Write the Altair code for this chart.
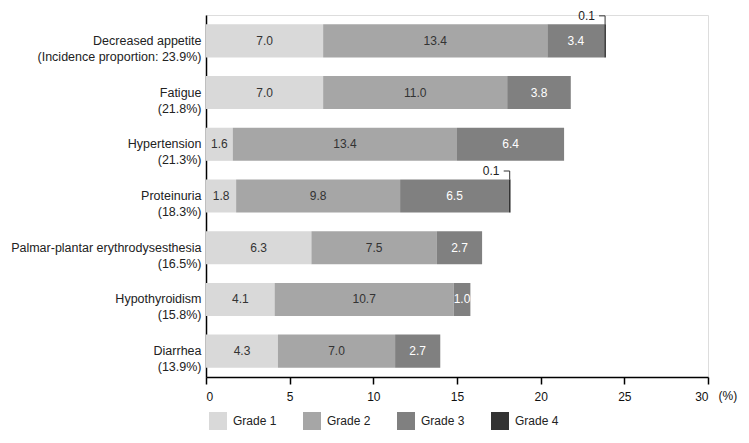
import altair as alt
import pandas as pd

categories = [
    "Decreased appetite\n(Incidence proportion: 23.9%)",
    "Fatigue\n(21.8%)",
    "Hypertension\n(21.3%)",
    "Proteinuria\n(18.3%)",
    "Palmar-plantar erythrodysesthesia\n(16.5%)",
    "Hypothyroidism\n(15.8%)",
    "Diarrhea\n(13.9%)",
]
grades = ["Grade 1", "Grade 2", "Grade 3", "Grade 4"]
grade1 = [7.0, 7.0, 1.6, 1.8, 6.3, 4.1, 4.3]
grade2 = [13.4, 11.0, 13.4, 9.8, 7.5, 10.7, 7.0]
grade3 = [3.4, 3.8, 6.4, 6.5, 2.7, 1.0, 2.7]
grade4 = [0.1, 0.0, 0.0, 0.1, 0.0, 0.0, 0.0]
colors = ["#d9d9d9", "#a6a6a6", "#808080", "#333333"]
x_ticks = [0, 5, 10, 15, 20, 25, 30]

rows = []
for i, c in enumerate(categories):
    start = 0.0
    for g, vals in zip(grades, [grade1, grade2, grade3, grade4]):
        v = vals[i]
        if v > 0:
            rows.append(dict(cat=c, grade=g, value=v, start=round(start, 2),
                             end=round(start + v, 2), mid=round(start + v / 2, 3),
                             label=f"{v:.1f}"))
        start += v
df = pd.DataFrame(rows)

FONT = "Liberation Sans"
W, H = 502, 362

y_enc = alt.Y(
    "cat:N", sort=categories,
    scale=alt.Scale(paddingInner=0.36, paddingOuter=0.18),
    axis=alt.Axis(title=None, labelExpr="split(datum.label, '\\n')", ticks=False,
                  domainColor="#000000", domainWidth=1.5, labelFontSize=12.5,
                  labelLineHeight=16, labelPadding=5, labelColor="#222222",
                  labelLimit=400, labelFont=FONT),
)
x_scale = alt.Scale(domain=[0, 30], nice=False)
x_axis = alt.Axis(values=x_ticks, title="(%)", grid=False, domainColor="#000000",
                  domainWidth=1.5, tickColor="#000000", tickWidth=1.5, tickSize=7,
                  labelFontSize=12, labelPadding=7, labelColor="#111111", labelFont=FONT,
                  titleFontSize=12, titleFontWeight="normal", titleColor="#111111",
                  titleFont=FONT, titleX=W + 10, titleY=22, titleAlign="left",
                  titleBaseline="alphabetic", titleAngle=0)

base = alt.Chart(df).encode(y=y_enc)

bars = base.mark_bar().encode(
    x=alt.X("start:Q", scale=x_scale, axis=x_axis),
    x2="end:Q",
    color=alt.Color("grade:N", scale=alt.Scale(domain=grades, range=colors),
                    legend=alt.Legend(title=None, orient="none", legendX=3, legendY=397,
                                      direction="horizontal", columns=4,
                                      symbolType="square", symbolSize=324,
                                      symbolStrokeWidth=0, symbolOpacity=1,
                                      labelFontSize=12, labelOffset=6,
                                      labelColor="#222222", labelFont=FONT,
                                      columnPadding=26, padding=0)),
)

txt_dark = base.mark_text(fontSize=12, color="#333333", font=FONT, baseline="middle").encode(
    x=alt.X("mid:Q", scale=x_scale, axis=x_axis), text="label:N"
).transform_filter("datum.grade == 'Grade 1' || datum.grade == 'Grade 2'")

txt_light = base.mark_text(fontSize=12, color="#ffffff", font=FONT, baseline="middle").encode(
    x=alt.X("mid:Q", scale=x_scale, axis=x_axis), text="label:N"
).transform_filter("datum.grade == 'Grade 3'")

g4 = base.transform_filter("datum.grade == 'Grade 4'")

txt_g4 = g4.mark_text(fontSize=12, color="#222222", font=FONT, align="right",
                      baseline="middle", dx=-11, dy=-25).encode(
    x=alt.X("end:Q", scale=x_scale, axis=x_axis), text="label:N"
)

lead_v = g4.mark_rule(color="#333333", strokeWidth=1, yOffset=-16.5, y2Offset=-25).encode(
    x=alt.X("mid:Q", scale=x_scale, axis=x_axis), y2="cat"
)
lead_h = g4.mark_rule(color="#333333", strokeWidth=1, yOffset=-25, y2Offset=-25,
                      x2Offset=-6).encode(
    x=alt.X("mid:Q", scale=x_scale, axis=x_axis), x2="mid:Q", y2="cat"
)

chart = alt.layer(bars, txt_dark, txt_light, lead_v, lead_h, txt_g4).properties(
    width=W, height=H,
    autosize=alt.AutoSizeParams(type="none"),
    padding={"left": 198, "top": 7, "right": 32, "bottom": 53},
).configure_view(stroke=None).configure(font=FONT)

chart.save("out.html", embed_options={"renderer": "svg", "actions": False})
